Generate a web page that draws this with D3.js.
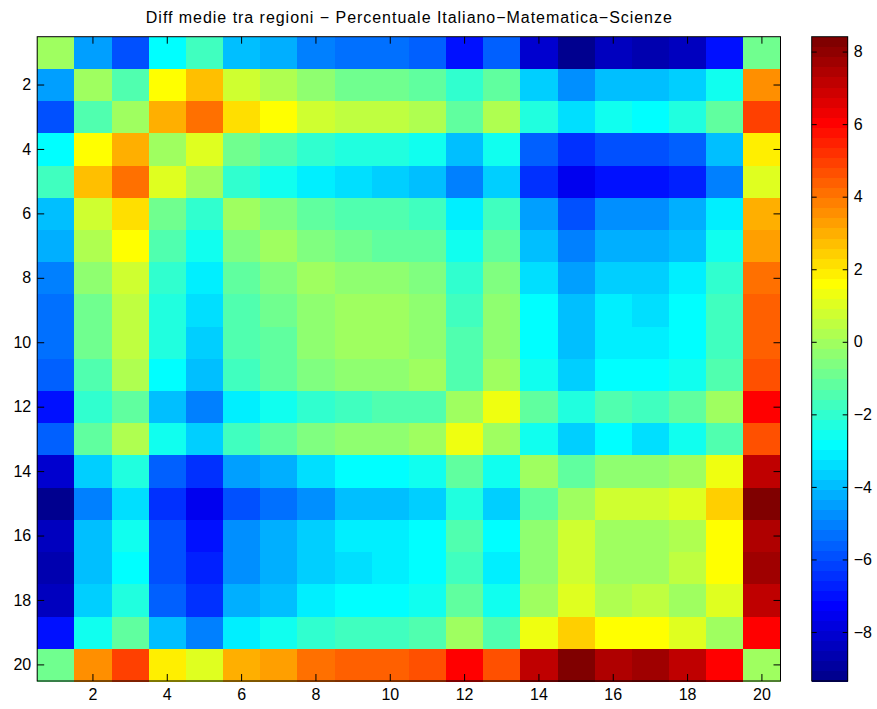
<!DOCTYPE html>
<html>
<head>
<meta charset="utf-8">
<script src="https://cdn.jsdelivr.net/npm/d3@7"></script>
<style>
  body { margin: 0; background: #fff; }
  svg { display: block; font-family: "Liberation Sans", Arial, sans-serif; }
  .axis path { display: none; }
  .axis line { stroke: #000; }
  .axis text { fill: #000; font-size: 16px; }
</style>
</head>
<body>
<svg width="877" height="709"></svg>
<script>
var title = "Diff medie tra regioni \u2212 Percentuale Italiano\u2212Matematica\u2212Scienze";
var regions = [1, 2, 3, 4, 5, 6, 7, 8, 9, 10, 11, 12, 13, 14, 15, 16, 17, 18, 19, 20];
var axisTicks = [2, 4, 6, 8, 10, 12, 14, 16, 18, 20];
var barTicks = [-8, -6, -4, -2, 0, 2, 4, 6, 8];

// differenze tra regioni, riga i = regione i
var diffs = [
  [0, -4.49, -5.88, -2.83, -1.72, -3.94, -4.22, -5.05, -5.33, -5.33, -5.60, -6.99, -5.60, -8.10, -9.35, -8.38, -8.66, -8.38, -6.99, -0.89],
  [-4.49, 0, -1.44, 1.61, 2.72, 0.78, 0.22, -0.33, -0.89, -0.89, -1.16, -2.00, -1.16, -3.66, -4.77, -3.94, -3.94, -3.66, -2.55, 3.55],
  [-5.88, -1.44, 0, 3.00, 4.11, 2.16, 1.61, 0.78, 0.50, 0.50, 0.22, -1.16, 0.22, -2.27, -3.38, -2.55, -2.83, -2.27, -1.16, 4.94],
  [-2.83, 1.61, 3.00, 0, 1.05, -0.89, -1.44, -2.00, -2.27, -2.27, -2.55, -3.94, -2.55, -5.60, -6.44, -5.88, -5.88, -5.60, -3.94, 1.89],
  [-1.72, 2.72, 4.11, 1.05, 0, -2.00, -2.55, -3.11, -3.38, -3.66, -3.94, -5.05, -3.66, -6.44, -7.55, -6.99, -6.99, -6.71, -5.05, 1.05],
  [-3.94, 0.78, 2.16, -0.89, -2.00, 0, -0.61, -1.16, -1.44, -1.44, -1.72, -3.11, -1.72, -4.49, -5.88, -4.77, -4.77, -4.22, -3.11, 3.00],
  [-4.22, 0.22, 1.61, -1.44, -2.55, -0.61, 0, -0.61, -0.89, -1.16, -1.16, -2.55, -1.16, -3.94, -5.05, -4.22, -4.22, -3.94, -2.55, 3.27],
  [-5.05, -0.33, 0.78, -2.00, -3.11, -1.16, -0.61, 0, -0.33, -0.33, -0.61, -2.00, -0.61, -3.38, -4.49, -3.66, -3.66, -3.11, -2.00, 4.11],
  [-5.33, -0.89, 0.50, -2.27, -3.38, -1.44, -0.89, -0.33, 0, -0.05, -0.33, -1.72, -0.33, -2.83, -3.94, -3.11, -3.38, -2.83, -1.72, 4.38],
  [-5.33, -0.89, 0.50, -2.27, -3.66, -1.44, -1.16, -0.33, -0.05, 0, -0.33, -1.44, -0.33, -2.83, -3.94, -3.11, -3.11, -2.83, -1.72, 4.38],
  [-5.60, -1.44, 0.22, -2.83, -3.94, -1.72, -1.16, -0.61, -0.33, -0.33, 0, -1.44, -0.05, -2.55, -3.66, -2.83, -2.83, -2.55, -1.44, 4.66],
  [-6.99, -2.00, -1.16, -3.94, -5.05, -3.11, -2.55, -2.00, -1.72, -1.44, -1.44, 0, 1.33, -1.16, -2.27, -1.44, -1.72, -1.16, -0.05, 6.05],
  [-5.60, -1.16, 0.22, -2.55, -3.66, -1.72, -1.16, -0.61, -0.33, -0.33, -0.05, 1.33, 0, -2.55, -3.66, -2.83, -3.38, -2.55, -1.44, 4.66],
  [-8.10, -3.66, -2.27, -5.60, -6.44, -4.49, -4.22, -3.38, -2.83, -2.83, -2.55, -1.16, -2.55, 0, -1.16, -0.33, -0.33, -0.05, 1.33, 7.16],
  [-9.35, -5.05, -3.38, -6.44, -7.55, -5.88, -5.33, -4.77, -3.94, -3.94, -3.66, -2.27, -3.66, -1.16, 0, 0.78, 0.78, 1.05, 2.44, 8.41],
  [-8.38, -3.94, -2.55, -5.88, -6.99, -4.77, -4.22, -3.66, -3.11, -3.11, -2.83, -1.44, -2.83, -0.33, 0.78, 0, -0.05, 0.22, 1.61, 7.43],
  [-8.66, -3.94, -2.83, -5.88, -6.71, -4.77, -4.22, -3.66, -3.38, -3.11, -2.83, -1.72, -3.11, -0.33, 0.78, -0.05, 0, 0.50, 1.61, 7.71],
  [-8.38, -3.66, -2.27, -5.60, -6.44, -4.22, -3.94, -3.11, -2.83, -2.83, -2.55, -1.16, -2.55, -0.05, 1.05, 0.22, 0.50, 0, 1.05, 7.16],
  [-6.99, -2.55, -1.16, -3.94, -5.05, -3.11, -2.55, -2.00, -1.72, -1.72, -1.44, -0.05, -1.44, 1.33, 2.44, 1.61, 1.61, 1.05, 0, 6.05],
  [-0.89, 3.55, 4.94, 1.89, 1.05, 3.00, 3.27, 4.11, 4.38, 4.38, 4.66, 6.05, 4.66, 7.16, 8.41, 7.43, 7.71, 7.16, 6.05, 0]
];

var svg = d3.select("svg");
var plotL = 37.2, plotR = 780.5, plotT = 36.7, plotB = 681;
var barL = 811.7, barR = 847.7;

// jet a 64 colori, come matlab
var clamp = v => Math.max(0, Math.min(1, v));
var jet = d3.range(1, 65).map(k => d3.rgb(
    255 * clamp(Math.min((k - 24) / 16, (72 - k) / 16)),
    255 * clamp(Math.min((k - 8) / 16, (56 - k) / 16)),
    255 * clamp(Math.min((k + 8) / 16, (40 - k) / 16))).formatHex());

var extent = d3.extent(d3.merge(diffs));
var color = d3.scaleQuantize().domain(extent).range(jet);

var x = d3.scaleBand().domain(regions).range([plotL, plotR]);
var y = d3.scaleBand().domain(regions).range([plotT, plotB]);

var cells = [];
diffs.forEach((row, i) => row.forEach((v, j) => cells.push({ r: regions[i], c: regions[j], v: v })));

svg.append("g").selectAll("rect")
    .data(cells)
    .enter().append("rect")
    .attr("x", d => x(d.c))
    .attr("y", d => y(d.r))
    .attr("width", x.bandwidth() + 0.5)
    .attr("height", y.bandwidth() + 0.5)
    .attr("fill", d => color(d.v))
    .attr("shape-rendering", "crispEdges");

svg.append("rect")
    .attr("x", plotL).attr("y", plotT)
    .attr("width", plotR - plotL).attr("height", plotB - plotT)
    .attr("fill", "none").attr("stroke", "#000");

svg.append("g").attr("class", "axis")
    .attr("transform", "translate(0," + plotB + ")")
    .call(d3.axisBottom(x).tickValues(axisTicks).tickSize(-7).tickPadding(8));
svg.append("g").attr("class", "axis")
    .attr("transform", "translate(0," + plotT + ")")
    .call(d3.axisTop(x).tickValues(axisTicks).tickSize(-7).tickFormat(""));
svg.append("g").attr("class", "axis")
    .attr("transform", "translate(" + plotL + ",0)")
    .call(d3.axisLeft(y).tickValues(axisTicks).tickSize(-7).tickPadding(6));
svg.append("g").attr("class", "axis")
    .attr("transform", "translate(" + plotR + ",0)")
    .call(d3.axisRight(y).tickValues(axisTicks).tickSize(-7).tickFormat(""));

svg.append("text")
    .attr("x", (plotL + plotR) / 2)
    .attr("y", 23)
    .attr("text-anchor", "middle")
    .attr("textLength", 526)
    .attr("lengthAdjust", "spacing")
    .style("font-size", "16px")
    .text(title);

// colorbar
var cb = d3.scaleLinear().domain(extent).range([plotB, plotT]);
var step = (extent[1] - extent[0]) / jet.length;

svg.append("g").selectAll("rect")
    .data(jet)
    .enter().append("rect")
    .attr("x", barL)
    .attr("width", barR - barL)
    .attr("y", (d, i) => cb(extent[0] + (i + 1) * step))
    .attr("height", cb(extent[0]) - cb(extent[0] + step) + 0.5)
    .attr("fill", d => d)
    .attr("shape-rendering", "crispEdges");

svg.append("rect")
    .attr("x", barL).attr("y", plotT)
    .attr("width", barR - barL).attr("height", plotB - plotT)
    .attr("fill", "none").attr("stroke", "#000");

svg.append("g").attr("class", "axis")
    .attr("transform", "translate(" + barR + ",0)")
    .call(d3.axisRight(cb).tickValues(barTicks).tickSize(-5).tickPadding(6));
svg.append("g").attr("class", "axis")
    .attr("transform", "translate(" + barL + ",0)")
    .call(d3.axisLeft(cb).tickValues(barTicks).tickSize(-5).tickFormat(""));
</script>
</body>
</html>
